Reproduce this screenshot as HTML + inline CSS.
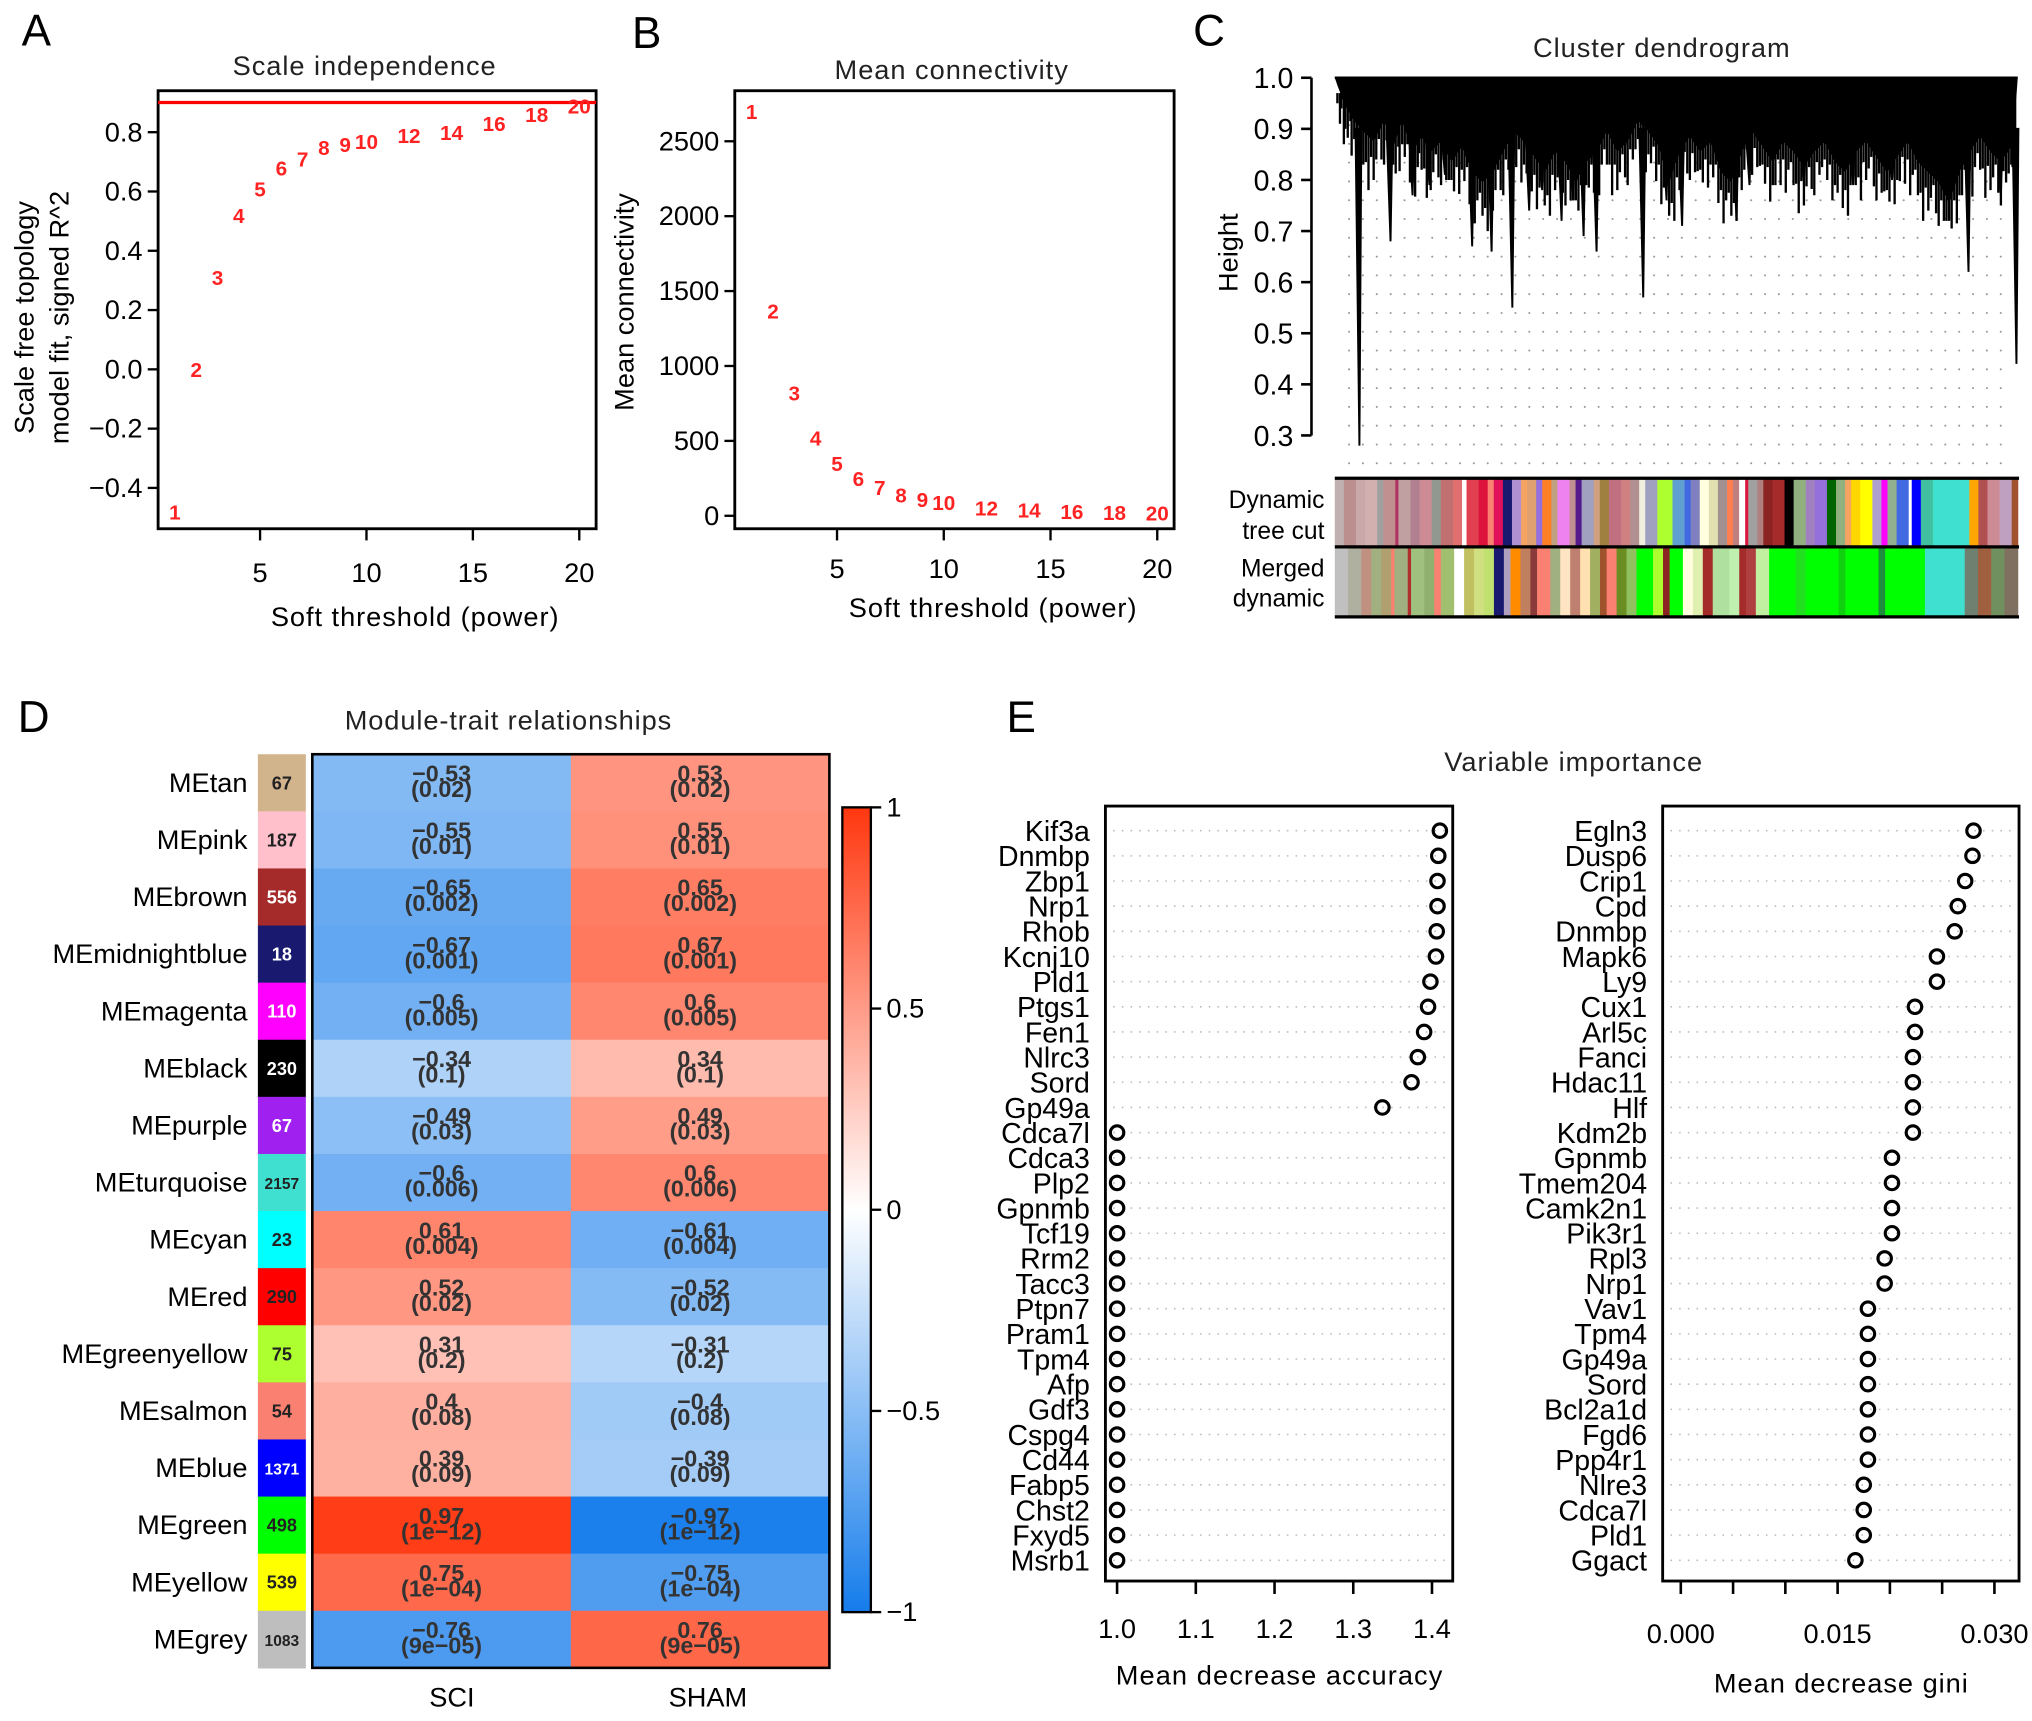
<!DOCTYPE html>
<html><head><meta charset="utf-8"><style>
html,body{margin:0;padding:0;background:#fff}
svg{display:block}
text{font-family:"Liberation Sans",Arial,sans-serif}
</style></head><body>
<svg id="fig" width="2032" height="1721" viewBox="0 0 1568 1328" xmlns="http://www.w3.org/2000/svg">
<g id="A"></g>
<g id="B"></g>
<g id="C"></g>
<g id="D"></g>
<g id="E"></g>
</svg>
<script>
// ---- Panel A/B data ----
const powers = [1,2,3,4,5,6,7,8,9,10,12,14,16,18,20];
const sftR2 = [-0.48,0.0,0.31,0.52,0.61,0.68,0.71,0.75,0.76,0.77,0.79,0.80,0.83,0.86,0.89];
const meanK = [2700,1370,820,520,350,250,190,140,110,90,55,40,30,25,20];
const aTicks = [-0.4,-0.2,0.0,0.2,0.4,0.6,0.8];
const bTicks = [0,500,1000,1500,2000,2500];
const xTicks = [5,10,15,20];
// ---- Panel D data ----
const modules = ["MEtan","MEpink","MEbrown","MEmidnightblue","MEmagenta","MEblack","MEpurple","MEturquoise","MEcyan","MEred","MEgreenyellow","MEsalmon","MEblue","MEgreen","MEyellow","MEgrey"];
const moduleSizes = [67,187,556,18,110,230,67,2157,23,290,75,54,1371,498,539,1083];
const moduleColors = ["#D2B48C","#FFC0CB","#A52A2A","#191970","#FF00FF","#000000","#A020F0","#40E0D0","#00FFFF","#FF0000","#ADFF2F","#FA8072","#0000FF","#00FF00","#FFFF00","#BEBEBE"];
const corSCI = [-0.53,-0.55,-0.65,-0.67,-0.6,-0.34,-0.49,-0.6,0.61,0.52,0.31,0.4,0.39,0.97,0.75,-0.76];
const pVals = ["0.02","0.01","0.002","0.001","0.005","0.1","0.03","0.006","0.004","0.02","0.2","0.08","0.09","1e\u221212","1e\u221204","9e\u221205"];
const traits = ["SCI","SHAM"];
// ---- Panel E data ----
const accGenes = ["Kif3a","Dnmbp","Zbp1","Nrp1","Rhob","Kcnj10","Pld1","Ptgs1","Fen1","Nlrc3","Sord","Gp49a","Cdca7l","Cdca3","Plp2","Gpnmb","Tcf19","Rrm2","Tacc3","Ptpn7","Pram1","Tpm4","Afp","Gdf3","Cspg4","Cd44","Fabp5","Chst2","Fxyd5","Msrb1"];
const accVals = [1.41,1.408,1.407,1.407,1.406,1.405,1.398,1.395,1.39,1.382,1.374,1.337,1.0,1.0,1.0,1.0,1.0,1.0,1.0,1.0,1.0,1.0,1.0,1.0,1.0,1.0,1.0,1.0,1.0,1.0];
const giniGenes = ["Egln3","Dusp6","Crip1","Cpd","Dnmbp","Mapk6","Ly9","Cux1","Arl5c","Fanci","Hdac11","Hlf","Kdm2b","Gpnmb","Tmem204","Camk2n1","Pik3r1","Rpl3","Nrp1","Vav1","Tpm4","Gp49a","Sord","Bcl2a1d","Fgd6","Ppp4r1","Nlre3","Cdca7l","Pld1","Ggact"];
const giniVals = [0.0280,0.0279,0.0272,0.0265,0.0262,0.0245,0.0245,0.0224,0.0224,0.0222,0.0222,0.0222,0.0222,0.0202,0.0202,0.0202,0.0202,0.0195,0.0195,0.0179,0.0179,0.0179,0.0179,0.0179,0.0179,0.0179,0.0175,0.0175,0.0175,0.0167];
const accTicks = [1.0,1.1,1.2,1.3,1.4];
const giniTicks = [0.000,0.005,0.010,0.015,0.020,0.025,0.030];
const giniTickLabels = ["0.000","","","0.015","","","0.030"];
// ---- Panel C data ----
const heightTicks = [0.3,0.4,0.5,0.6,0.7,0.8,0.9,1.0];
const canopy = [[1032,0.97],[1038,0.93],[1045,0.9],[1052,0.88],[1060,0.86],[1068,0.9],[1075,0.85],[1082,0.9],[1090,0.84],[1097,0.87],[1104,0.84],[1112,0.86],[1120,0.82],[1128,0.85],[1136,0.8],[1144,0.78],[1152,0.8],[1160,0.84],[1168,0.88],[1176,0.86],[1184,0.83],[1192,0.8],[1200,0.84],[1208,0.82],[1216,0.78],[1224,0.82],[1232,0.84],[1240,0.88],[1248,0.84],[1256,0.86],[1264,0.9],[1272,0.88],[1280,0.85],[1288,0.78],[1296,0.84],[1304,0.87],[1312,0.84],[1320,0.86],[1328,0.8],[1336,0.78],[1344,0.84],[1352,0.88],[1360,0.85],[1368,0.82],[1376,0.86],[1384,0.84],[1392,0.81],[1400,0.84],[1408,0.86],[1416,0.82],[1424,0.8],[1432,0.84],[1440,0.86],[1448,0.83],[1456,0.8],[1464,0.83],[1472,0.86],[1480,0.82],[1488,0.8],[1496,0.78],[1504,0.74],[1512,0.8],[1520,0.84],[1528,0.87],[1536,0.84],[1544,0.82],[1552,0.85],[1556,0.95]];
const spikes = [[1049,0.28],[1073,0.68],[1090,0.77],[1103,0.79],[1136,0.67],[1151,0.66],[1167,0.55],[1180,0.74],[1205,0.72],[1222,0.69],[1232,0.66],[1268,0.57],[1298,0.71],[1340,0.72],[1519,0.62],[1556,0.44],[1544,0.77],[1115,0.81],[1190,0.78],[1214,0.76],[1286,0.76],[1350,0.79],[1392,0.8],[1430,0.79],[1460,0.8]];
const twigDepth = [0.02,0.05,0.01,0.07,0.03,0.04,0.0,0.06,0.02,0.08,0.03,0.01,0.05,0.04,0.09,0.02,0.06,0.03,0.0,0.05,0.07,0.01,0.04,0.03];
const dynColors = [["#C0B0B0",3],["#BC8F8F",4],["#C8A8A8",3],["#D3B0B0",4],["#A0A0A0",2],["#C09090",4],["#B03060",1],["#C0A0A0",4],["#B08090",3],["#CD8C95",4],["#909890",3],["#C07070",4],["#E07070",3],["#FFFFFF",1.5],["#E04050",4],["#DC143C",3],["#FA8072",2],["#E0105A",3],["#191970",3],["#B090D0",3],["#F4A460",2],["#E0A070",3],["#9370DB",2],["#FF7F24",3],["#C0A080",2],["#EE82EE",4],["#C09090",2],["#551A8B",2],["#A0A0C0",4],["#D0A080",2],["#A08040",3],["#C07080",4],["#D08080",3],["#B09090",3],["#F0F0E0",2],["#A0A0C0",4],["#ADFF2F",5],["#60A0D0",4],["#4169E1",2],["#8080C0",3],["#FFFFE0",3],["#E0E0B0",3],["#A09090",3],["#FF7F50",2],["#C08080",2],["#FFFFFF",2],["#DC143C",1],["#A0A0A0",3],["#B08080",2],["#8B2323",3],["#A52A2A",4],["#000000",3],["#90B080",4],["#A080C0",3],["#9370DB",4],["#006400",3],["#90B080",3],["#F4A460",2],["#FFD700",3],["#FFFF00",4],["#B0A0D0",3],["#FF00FF",2],["#90B090",3],["#4169E1",4],["#FFFFFF",1],["#0000FF",3],["#40C0A0",4],["#40E0D0",12],["#FFA500",3],["#B05050",3],["#CD8C95",4],["#C0A0C0",4],["#A0522D",2]];
const mrgColors = [["#C0C0C0",4],["#B0B0A0",4],["#C09080",3],["#A0B080",3],["#B0A070",3],["#FA8072",1],["#A0B080",4],["#B03030",1],["#A0C080",4],["#90B070",3],["#FA8072",2],["#A0C070",4],["#FFFFFF",3],["#C0C060",3],["#D0E080",3],["#C0E070",3],["#191970",3],["#B0A0C0",2],["#FF8C00",3],["#C08060",3],["#8B3A3A",2],["#FA8072",4],["#A0B080",3],["#FFE4C4",3],["#C08070",3],["#FFE0B0",3],["#A0B060",3],["#A0522D",2],["#FA8072",3],["#6B8E23",3],["#90C060",3],["#00FF00",5],["#ADFF2F",3],["#8B2323",2],["#00FF00",4],["#FFFFE0",3],["#E0F0B0",3],["#A52A2A",3],["#B0E0A0",5],["#C0F0B0",3],["#A52A2A",2],["#B04040",3],["#C0F0A0",4],["#00FF00",8],["#20E020",3],["#00FF00",10],["#10D010",2],["#00FF00",10],["#1E8E3E",2],["#00FF00",12],["#40E0D0",12],["#708070",4],["#A06040",4],["#709060",4],["#807060",4]];

const NS="http://www.w3.org/2000/svg";
function mk(parent,tag,attrs,txt){const e=document.createElementNS(NS,tag);for(const k in attrs)e.setAttribute(k,attrs[k]);if(txt!==undefined)e.textContent=txt;parent.appendChild(e);return e;}
function fmtMinus(v){return String(v).replace('-','\u2212');}

// ===== Panel A =====
(function(){
const g=document.getElementById('A');
const x0=122,x1=460,y0=70,y1=408;
const sx=v=>135+(v-1)*(447-135)/19;
const sy=v=>285-v*(285-102)/0.8;
let t=mk(g,'text',{x:28,y:35,'font-size':34,'text-anchor':'middle'},'A');

t=mk(g,'text',{x:281,y:58,'font-size':21,'text-anchor':'middle',fill:'#222',textLength:203},'Scale independence');

const r=mk(g,'rect',{x:x0,y:y0,width:x1-x0,height:y1-y0,fill:'none',stroke:'#000','stroke-width':2.2});

const hl=mk(g,'line',{x1:x0,x2:x1,y1:sy(0.9),y2:sy(0.9),stroke:'#f00','stroke-width':2.5});

aTicks.forEach(v=>{const y=sy(v);mk(g,'line',{x1:x0-8,x2:x0,y1:y,y2:y,stroke:'#000','stroke-width':1.8});
 const l=mk(g,'text',{x:x0-12,y:y+7,'font-size':21,'text-anchor':'end'},fmtMinus(v.toFixed(1)));
 });
xTicks.forEach(v=>{const x=sx(v);mk(g,'line',{x1:x,x2:x,y1:y1,y2:y1+9,stroke:'#000','stroke-width':1.8});
 const l=mk(g,'text',{x:x,y:449,'font-size':21,'text-anchor':'middle'},v);
 });
t=mk(g,'text',{x:320,y:483,'font-size':21,'text-anchor':'middle',textLength:222},'Soft threshold (power)');

t=mk(g,'text',{transform:'translate(26,245) rotate(-90)','font-size':21,'text-anchor':'middle'},'Scale free topology');

t=mk(g,'text',{transform:'translate(53,245) rotate(-90)','font-size':21,'text-anchor':'middle'},'model fit, signed R^2');

powers.forEach((p,i)=>{const l=mk(g,'text',{x:sx(p),y:sy(sftR2[i])+6,'font-size':16,'font-weight':'bold','text-anchor':'middle',fill:'#f22'},p);
 });
})();

// ===== Panel B =====
(function(){
const g=document.getElementById('B');
const x0=567,x1=906,y0=70,y1=408;
const sx=v=>580+(v-1)*(893-580)/19;
const sy=v=>398-v*(398-109)/2500;
let t=mk(g,'text',{x:499,y:37,'font-size':34,'text-anchor':'middle'},'B');

t=mk(g,'text',{x:734,y:61,'font-size':21,'text-anchor':'middle',fill:'#222',textLength:180},'Mean connectivity');

const r=mk(g,'rect',{x:x0,y:y0,width:x1-x0,height:y1-y0,fill:'none',stroke:'#000','stroke-width':2.2});

bTicks.forEach(v=>{const y=sy(v);mk(g,'line',{x1:x0-8,x2:x0,y1:y,y2:y,stroke:'#000','stroke-width':1.8});
 const l=mk(g,'text',{x:x0-12,y:y+7,'font-size':21,'text-anchor':'end'},v);
 });
xTicks.forEach(v=>{const x=sx(v);mk(g,'line',{x1:x,x2:x,y1:y1,y2:y1+9,stroke:'#000','stroke-width':1.8});
 const l=mk(g,'text',{x:x,y:446,'font-size':21,'text-anchor':'middle'},v);
 });
t=mk(g,'text',{x:766,y:476,'font-size':21,'text-anchor':'middle',textLength:222},'Soft threshold (power)');

t=mk(g,'text',{transform:'translate(489,233) rotate(-90)','font-size':21,'text-anchor':'middle'},'Mean connectivity');

powers.forEach((p,i)=>{const l=mk(g,'text',{x:sx(p),y:sy(meanK[i])+6,'font-size':16,'font-weight':'bold','text-anchor':'middle',fill:'#f22'},p);
 });
})();

// ===== Panel C =====
(function(){
const g=document.getElementById('C');
const sy=h=>60+(1-h)/0.7*276;
let t=mk(g,'text',{x:933,y:35,'font-size':34,'text-anchor':'middle'},'C');

t=mk(g,'text',{x:1282,y:44,'font-size':21,'text-anchor':'middle',fill:'#222',textLength:198},'Cluster dendrogram');

const dots=mk(g,'g',{fill:'#999'});

for(let x=1041;x<1552;x+=10.7){for(let y=82;y<362;y+=14.5){mk(dots,'circle',{cx:x.toFixed(1),cy:y.toFixed(1),r:0.8});}}
const ax=mk(g,'line',{x1:1012,x2:1012,y1:sy(1.0),y2:sy(0.3),stroke:'#000','stroke-width':2});

heightTicks.forEach(v=>{const y=sy(v);mk(g,'line',{x1:1004,x2:1012,y1:y,y2:y,stroke:'#000','stroke-width':2});
 const l=mk(g,'text',{x:998,y:y+8,'font-size':22,'text-anchor':'end'},v.toFixed(1));
 });
t=mk(g,'text',{transform:'translate(955,195) rotate(-90)','font-size':21,'text-anchor':'middle'},'Height');

let d='M1030,'+sy(1.0);
canopy.forEach(p=>{d+=' L'+p[0]+','+sy(Math.min(0.99,p[1]+0.015)).toFixed(1);});
d+=' L1557,'+sy(1.0)+' Z';
const mass=mk(g,'path',{d:d,fill:'#000'});

const tw=mk(g,'g',{stroke:'#000','stroke-width':1.8});

for(let i=0;i<canopy.length-1;i++){const a=canopy[i],b=canopy[i+1];
 for(let k=0;k<4;k++){const f=k/4;const x=Math.round(a[0]+(b[0]-a[0])*f);const h=a[1]+(b[1]-a[1])*f-twigDepth[(i*4+k)%twigDepth.length];
  mk(tw,'line',{x1:x,x2:x,y1:sy(0.97),y2:sy(h).toFixed(1)});}}
mk(g,'line',{x1:1030,x2:1557,y1:sy(1.0),y2:sy(1.0),stroke:'#000','stroke-width':2});
spikes.forEach(s=>{const l=mk(g,'path',{d:'M'+(s[0]-3)+','+sy(0.9)+' L'+s[0]+','+sy(s[1]).toFixed(1)+' L'+(s[0]+1.5)+','+sy(0.9)+' Z',fill:'#000',stroke:'#000','stroke-width':1.5});
 });
function bar(list,y,h,name){const gg=mk(g,'g',{});
 const tot=list.reduce((a,b)=>a+b[1],0);let x=1030;const W=527;
 list.forEach(c=>{const w=c[1]/tot*W;mk(gg,'rect',{x:x.toFixed(2),y:y,width:(w+0.4).toFixed(2),height:h,fill:c[0]});x+=w;});}
bar(dynColors,370,52,'dynamic-tree-cut-bar');
bar(mrgColors,423,52,'merged-dynamic-bar');
[369,422,476].forEach(y=>mk(g,'line',{x1:1030,x2:1558,y1:y,y2:y,stroke:'#000','stroke-width':2.5}));
[['Dynamic',392],['tree cut',416],['Merged',445],['dynamic',468]].forEach(a=>{const l=mk(g,'text',{x:1022,y:a[1],'font-size':19,'text-anchor':'end'},a[0]);
 });
})();

// ===== Panel D =====
(function(){
const g=document.getElementById('D');
const hx0=241,hx1=640,hy0=582,hy1=1287,n=modules.length,rh=(hy1-hy0)/n,cw=(hx1-hx0)/2;
function col(v){const a=Math.abs(v);let c;if(v<0)c=[255-a*234,255-a*131,255-a*20];else c=[255,255-a*200,255-a*240];return 'rgb('+c.map(Math.round).join(',')+')';}
let t=mk(g,'text',{x:26,y:565,'font-size':34,'text-anchor':'middle'},'D');

t=mk(g,'text',{x:392,y:563,'font-size':21,'text-anchor':'middle',fill:'#222',textLength:252},'Module-trait relationships');

modules.forEach((m,i)=>{const y=hy0+i*rh,cy=y+rh/2;
 const l=mk(g,'text',{x:191,y:cy+7,'font-size':21,'text-anchor':'end'},m);
 
 const sw=mk(g,'rect',{x:199,y:y,width:37,height:rh+0.5,fill:moduleColors[i]});
 
 const dark=["#A52A2A","#191970","#FF00FF","#000000","#A020F0","#0000FF"].includes(moduleColors[i]);
 const s=mk(g,'text',{x:217.5,y:cy+5,'font-size':moduleSizes[i]>999?12:14,'font-weight':'bold','text-anchor':'middle',fill:dark?'#fff':'#222'},moduleSizes[i]);
 
 [corSCI[i],-corSCI[i]].forEach((v,j)=>{const x=hx0+j*cw;
  const c=mk(g,'rect',{x:x,y:y,width:cw+0.5,height:rh+0.5,fill:col(v)});
  
  const a=mk(g,'text',{x:x+cw/2,y:cy-1,'font-size':18,'font-weight':'bold','text-anchor':'middle',fill:'#333'},fmtMinus(v));
  
  const b=mk(g,'text',{x:x+cw/2,y:cy+11,'font-size':18,'font-weight':'bold','text-anchor':'middle',fill:'#333'},'('+pVals[i]+')');
  });
});
const fr=mk(g,'rect',{x:hx0,y:hy0,width:hx1-hx0,height:hy1-hy0,fill:'none',stroke:'#000','stroke-width':2});

traits.forEach((tr,j)=>{const l=mk(g,'text',{x:hx0+cw*(j+0.5)+(j?6:8),y:1317,'font-size':21,'text-anchor':'middle'},tr);
 });
const defs=mk(g,'defs',{});const lg=mk(defs,'linearGradient',{id:'cbg',x1:0,y1:0,x2:0,y2:1});
[1,0.5,0,-0.5,-1].forEach((v,k)=>mk(lg,'stop',{offset:k*0.25,'stop-color':col(v)}));
const cy0=623,cy1=1244;
const cb=mk(g,'rect',{x:650,y:cy0,width:22,height:cy1-cy0,fill:'url(#cbg)',stroke:'#000','stroke-width':1.8});

[1,0.5,0,-0.5,-1].forEach(v=>{const y=cy0+(1-v)/2*(cy1-cy0);mk(g,'line',{x1:672,x2:680,y1:y,y2:y,stroke:'#000','stroke-width':1.8});
 const l=mk(g,'text',{x:684,y:y+7,'font-size':21},fmtMinus(v));});
})();

// ===== Panel E =====
(function(){
const g=document.getElementById('E');
let t=mk(g,'text',{x:788,y:565,'font-size':34,'text-anchor':'middle'},'E');

t=mk(g,'text',{x:1214,y:595,'font-size':21,'text-anchor':'middle',fill:'#222',textLength:199},'Variable importance');

const ry=i=>641+i*(1204-641)/29;
function dot(bx0,bx1,genes,vals,sx,ticks,labels,ttl,ttlY,tickY,nm,ttlW){
 const gg=mk(g,'g',{});
 genes.forEach((gn,i)=>{const y=ry(i);
  mk(gg,'line',{x1:bx0+6,x2:bx1-6,y1:y,y2:y,stroke:'#bbb','stroke-width':1.2,'stroke-dasharray':'1.2 5.5'});
  const l=mk(gg,'text',{x:bx0-12,y:y+8,'font-size':22,'text-anchor':'end'},gn);
  
  const c=mk(gg,'circle',{cx:sx(vals[i]),cy:y,r:5.2,fill:'none',stroke:'#000','stroke-width':2.4});
  });
 const fr=mk(gg,'rect',{x:bx0,y:622,width:bx1-bx0,height:598,fill:'none',stroke:'#000','stroke-width':2.2});
 
 ticks.forEach((v,k)=>{const x=sx(v);mk(gg,'line',{x1:x,x2:x,y1:1220,y2:1230,stroke:'#000','stroke-width':2});
  if(labels[k]!==''){const l=mk(gg,'text',{x:x,y:tickY,'font-size':21,'text-anchor':'middle'},labels[k]);
  }});
 const a=mk(gg,'text',{x:(bx0+bx1)/2,y:ttlY,'font-size':21,'text-anchor':'middle',textLength:ttlW},ttl);
 }
dot(853,1121,accGenes,accVals,v=>862+(v-1)*(1105-862)/0.4,accTicks,accTicks.map(v=>v.toFixed(1)),'Mean decrease accuracy',1300,1264,'accuracy-plot',252);
dot(1283,1558,giniGenes,giniVals,v=>1297+v*(1539-1297)/0.03,giniTicks,giniTickLabels,'Mean decrease gini',1306,1268,'gini-plot',196);
})();
</script>
</body></html>
